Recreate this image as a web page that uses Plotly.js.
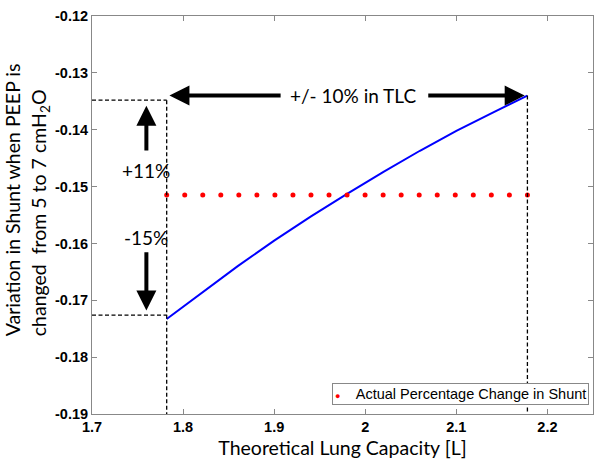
<!DOCTYPE html>
<html>
<head>
<meta charset="utf-8">
<script src="https://cdn.plot.ly/plotly-3.0.1.min.js"></script>
<style>html,body{margin:0;padding:0;background:#fff;}#chart{width:600px;height:468px;}</style>
</head>
<body>
<div id="chart"></div>
<script>
// Model curve
var tlc = [1.782, 1.82, 1.86, 1.9, 1.94, 1.98, 2.02, 2.06, 2.1, 2.14, 2.178];
var shuntVar = [-0.1733, -0.1687, -0.1640, -0.1595, -0.1553, -0.1513, -0.1474, -0.1437, -0.1402, -0.1370, -0.1340];
// Actual percentage change (dotted)
var tlcDots = [1.782, 1.8018, 1.8216, 1.8414, 1.8612, 1.881, 1.9008, 1.9206, 1.9404, 1.9602, 1.98,
               1.9998, 2.0196, 2.0394, 2.0592, 2.079, 2.0988, 2.1186, 2.1384, 2.1582, 2.178];
var actualChange = [-0.1515, -0.1515, -0.1515, -0.1515, -0.1515, -0.1515, -0.1515, -0.1515, -0.1515, -0.1515, -0.1515,
                    -0.1515, -0.1515, -0.1515, -0.1515, -0.1515, -0.1515, -0.1515, -0.1515, -0.1515, -0.1515];
var legendLabel = 'Actual Percentage Change in Shunt';
// Tick labels
var xTickVals = [1.7, 1.8, 1.9, 2.0, 2.1, 2.2];
var xTickText = ['1.7', '1.8', '1.9', '2', '2.1', '2.2'];
var yTickVals = [-0.19, -0.18, -0.17, -0.16, -0.15, -0.14, -0.13, -0.12];
var yTickText = ['-0.19', '-0.18', '-0.17', '-0.16', '-0.15', '-0.14', '-0.13', '-0.12'];
// Reference levels
var tlcLow = 1.782, tlcHigh = 2.178;
var upperLevel = -0.1348, lowerLevel = -0.1726, endLevel = -0.1340;
var yMin = -0.19, yMax = -0.12, xMin = 1.7, xMax = 2.25;

var hand = "Lato, 'Open Sans', sans-serif";
var tickFont = {family: "Liberation Sans, Arial, sans-serif", size: 14.5, color: '#000'};
function bold(arr) { return arr.map(function (t) { return '<b>' + t + '</b>'; }); }

var traces = [
  {x: tlc, y: shuntVar, mode: 'lines', line: {color: '#0000ff', width: 2}, showlegend: false, hoverinfo: 'skip'},
  {x: tlcDots, y: actualChange, mode: 'markers', marker: {color: '#ff0000', size: 5}, name: legendLabel, showlegend: false}
];

var dash = {color: '#000', width: 1.3, dash: '4px,2.5px'};
var shapes = [
  {type: 'line', xref: 'x', yref: 'y', x0: xMin, x1: tlcLow, y0: upperLevel, y1: upperLevel, line: dash},
  {type: 'line', xref: 'x', yref: 'y', x0: xMin, x1: tlcLow, y0: lowerLevel, y1: lowerLevel, line: dash},
  {type: 'line', xref: 'x', yref: 'y', x0: tlcLow, x1: tlcLow, y0: upperLevel, y1: yMin, line: dash},
  {type: 'line', xref: 'x', yref: 'y', x0: tlcHigh, x1: tlcHigh, y0: endLevel, y1: yMin, line: dash}
];

function arrow(xh, yh, xt, yt) {
  return {x: xh, y: yh, ax: xt, ay: yt, xref: 'x', yref: 'y', axref: 'x', ayref: 'y',
          showarrow: true, arrowhead: 2, arrowsize: 1.0, arrowwidth: 4, arrowcolor: '#000', text: ''};
}
var annotations = [
  arrow(1.785, -0.1340, 1.9087, -0.1340),
  arrow(2.175, -0.1340, 2.0675, -0.1340),
  arrow(1.7597, -0.1358, 1.7597, -0.1439),
  arrow(1.7597, -0.1718, 1.7597, -0.1613),
  {x: 1.986, y: -0.1340, xref: 'x', yref: 'y', text: '+/- 10% in TLC', showarrow: false, font: {family: hand, size: 19, color: '#000'}},
  {x: 1.7597, y: -0.1471, xref: 'x', yref: 'y', text: '+11%', showarrow: false, font: {family: hand, size: 19, color: '#000'}},
  {x: 1.7597, y: -0.1589, xref: 'x', yref: 'y', text: '-15%', showarrow: false, font: {family: hand, size: 19, color: '#000'}},
  // y-axis title (lines aligned at their start, as in the reference)
  {xref: 'paper', yref: 'paper', x: -0.129, y: 0.19, xanchor: 'center', yanchor: 'bottom', textangle: -90, align: 'left',
   showarrow: false, text: 'Variation in Shunt when PEEP is<br>changed  from 5 to 7 cmH<sub>2</sub>O',
   font: {family: hand, size: 19.5, color: '#000'}},
  // legend box
  {xref: 'paper', yref: 'paper', x: 0.992, y: 0.022, xanchor: 'right', yanchor: 'bottom', showarrow: false,
   text: '<span style="color:#ff0000;font-size:9px">●</span>    ' + legendLabel,
   font: {family: "Liberation Sans, Arial, sans-serif", size: 14.5, color: '#000'},
   bgcolor: '#fff', bordercolor: '#888', borderwidth: 1, borderpad: 2}
];

var layout = {
  width: 600, height: 468,
  margin: {l: 92, r: 7, t: 16, b: 54},
  paper_bgcolor: '#fff', plot_bgcolor: '#fff',
  showlegend: false,
  xaxis: {range: [xMin, xMax], tickmode: 'array', tickvals: xTickVals, ticktext: bold(xTickText),
          ticks: 'inside', ticklen: 5, tickcolor: '#888',
          mirror: 'ticks', showline: true, linecolor: '#888', linewidth: 1, showgrid: false, zeroline: false,
          tickfont: tickFont,
          title: {text: 'Theoretical Lung Capacity [L]', font: {family: hand, size: 19.5, color: '#000'}, standoff: 6}},
  yaxis: {range: [yMin, yMax], tickmode: 'array', tickvals: yTickVals, ticktext: bold(yTickText),
          ticks: 'inside', ticklen: 5, tickcolor: '#888',
          mirror: 'ticks', showline: true, linecolor: '#888', linewidth: 1, showgrid: false, zeroline: false,
          tickfont: tickFont},
  shapes: shapes,
  annotations: annotations
};

Plotly.newPlot('chart', traces, layout, {displayModeBar: false, staticPlot: true});
</script>
</body>
</html>
